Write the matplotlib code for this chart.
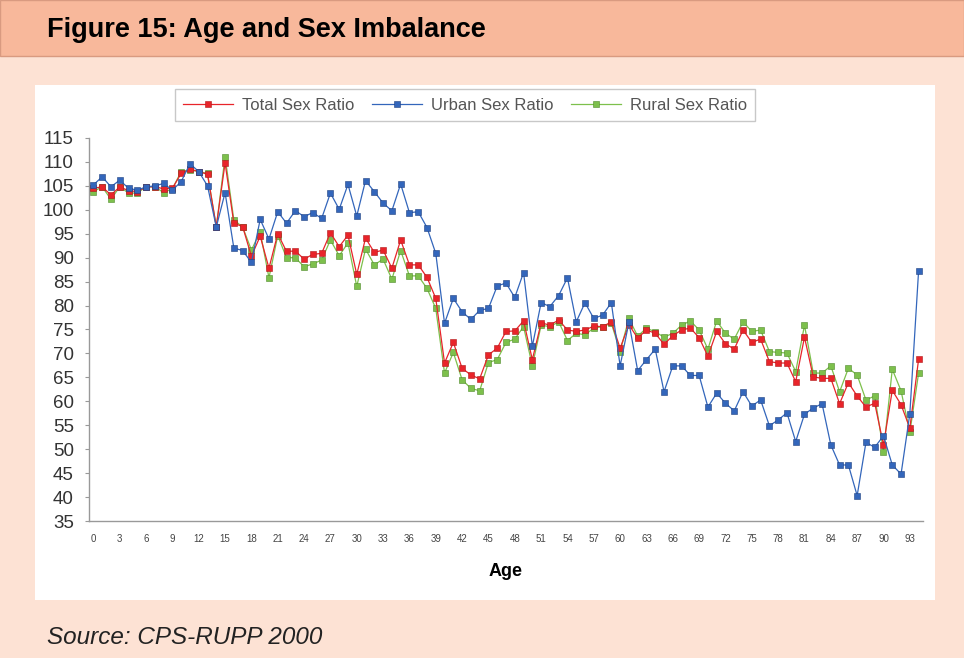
import matplotlib
matplotlib.use("Agg")
import matplotlib.pyplot as plt
from matplotlib.patches import Rectangle
import numpy as np

plt.rcParams['font.family'] = ['Liberation Sans', 'DejaVu Sans']

ages = list(range(0, 95))

total_ratio = [104.5, 104.8, 103.1, 104.8, 104.0, 103.8, 104.8, 104.8, 104.4, 104.5,
               107.6, 108.5, 108.0, 107.4, 96.5, 109.8, 97.2, 96.5, 90.3, 94.5,
               87.8, 95.0, 91.3, 91.4, 89.7, 90.7, 90.9, 95.2, 92.3, 94.7,
               86.5, 94.1, 91.1, 91.6, 87.8, 93.7, 88.5, 88.5, 85.9, 81.5,
               68.0, 72.3, 66.9, 65.5, 64.7, 69.7, 71.1, 74.6, 74.7, 76.8,
               68.7, 76.4, 75.9, 77.0, 74.9, 74.6, 74.9, 75.7, 75.6, 76.6,
               71.1, 76.0, 73.2, 74.9, 74.2, 71.9, 73.7, 74.9, 75.3, 73.3,
               69.4, 74.6, 72.0, 70.9, 74.9, 72.3, 73.0, 68.3, 68.0, 68.0,
               64.1, 73.4, 65.1, 64.8, 64.8, 59.5, 63.9, 61.1, 58.8, 59.6,
               50.9, 62.3, 59.3, 54.4, 68.8]

urban_ratio = [105.2, 106.9, 104.8, 106.2, 104.5, 104.1, 104.8, 105.0, 105.5, 104.1,
               105.9, 109.6, 108.0, 105.0, 96.4, 103.6, 92.0, 91.5, 89.0, 98.0,
               93.9, 99.6, 97.2, 99.8, 98.6, 99.4, 98.2, 103.5, 100.1, 105.3,
               98.7, 106.1, 103.8, 101.4, 99.8, 105.4, 99.4, 99.6, 96.3, 90.9,
               76.3, 81.5, 78.7, 77.1, 79.0, 79.4, 84.1, 84.7, 81.7, 86.9,
               71.5, 80.6, 79.8, 82.1, 85.8, 76.6, 80.6, 77.3, 78.0, 80.6,
               67.4, 76.5, 66.4, 68.7, 70.9, 62.0, 67.4, 67.4, 65.4, 65.4,
               58.8, 61.7, 59.6, 58.0, 62.0, 59.0, 60.3, 54.9, 56.1, 57.6,
               51.6, 57.3, 58.6, 59.5, 50.9, 46.7, 46.7, 40.3, 51.4, 50.4,
               52.8, 46.7, 44.8, 57.4, 87.3]

rural_ratio = [103.8, 104.8, 102.2, 104.8, 103.5, 103.5, 104.8, 104.8, 103.6, 104.4,
               108.0, 108.3, 108.0, 107.6, 96.4, 111.1, 97.9, 96.4, 91.6, 95.4,
               85.8, 94.6, 90.0, 90.0, 88.1, 88.7, 89.5, 93.7, 90.4, 93.1,
               84.0, 91.8, 88.5, 89.7, 85.5, 91.5, 86.2, 86.2, 83.6, 79.4,
               65.9, 70.2, 64.5, 62.7, 62.2, 68.1, 68.7, 72.3, 73.0, 75.6,
               67.4, 75.9, 75.6, 76.6, 72.7, 74.2, 73.9, 75.3, 75.6, 76.3,
               70.4, 77.3, 73.6, 75.3, 74.5, 73.4, 74.2, 75.9, 76.8, 74.9,
               70.9, 76.8, 74.2, 73.0, 76.6, 74.6, 74.9, 70.4, 70.2, 70.1,
               66.2, 75.9, 65.9, 65.9, 67.4, 62.0, 66.9, 65.5, 60.3, 61.1,
               49.5, 66.7, 62.2, 53.5, 65.9]

y_ticks = list(range(35, 116, 5))
x_ticks = list(range(0, 94, 3))

W, H = 964, 658
fig = plt.figure(figsize=(W / 100, H / 100), dpi=100)
fig.patch.set_facecolor('#fde2d4')

# header bar
fig.add_artist(Rectangle((0, 1 - 56 / H), 1, 56 / H, transform=fig.transFigure,
                         facecolor='#f8b89b', edgecolor='#d99a80', linewidth=1,
                         zorder=-10))
fig.text(47 / W, 1 - 30 / H, "Figure 15: Age and Sex Imbalance", fontsize=19.5,
         fontweight='bold', va='center', ha='left', color='black')

# white chart panel
fig.add_artist(Rectangle((35 / W, 58 / H), 900 / W, 515 / H, transform=fig.transFigure,
                         facecolor='white', edgecolor='none', zorder=-10))

fig.text(47 / W, 1 - 637 / H, "Source: CPS-RUPP 2000", fontsize=17.5, style='italic',
         va='center', ha='left', color='#222222')

ax = fig.add_axes([89 / W, 137 / H, 834 / W, 383 / H])
ax.set_facecolor('white')

line_kw = dict(linewidth=0.9, marker='s', markersize=4, markeredgewidth=0.4)
ax.plot(ages, total_ratio, color='#e8242a', markeredgecolor='#b01818',
        label='Total Sex Ratio', zorder=3, **line_kw)
ax.plot(ages, urban_ratio, color='#3366bb', markeredgecolor='#1e3f80',
        label='Urban Sex Ratio', zorder=4, **line_kw)
ax.plot(ages, rural_ratio, color='#7dc04c', markeredgecolor='#4f8a2a',
        label='Rural Sex Ratio', zorder=2, **line_kw)

ax.set_xlim(-0.5, 94.5)
ax.set_ylim(35, 115)
ax.set_yticks(y_ticks)
ax.set_xticks(x_ticks)
ax.set_xticklabels([str(v) for v in x_ticks], fontsize=7, color='#444444')
ax.tick_params(axis='y', labelsize=13.5, colors='#333333', length=3, color='#999999',
               pad=8)
ax.tick_params(axis='x', length=0, pad=9)
for s in ['top', 'right']:
    ax.spines[s].set_visible(False)
for s in ['left', 'bottom']:
    ax.spines[s].set_color('#999999')
    ax.spines[s].set_linewidth(1)

ax.set_xlabel('Age', fontsize=13, fontweight='bold', labelpad=14)

leg = fig.legend(loc='center', bbox_to_anchor=(465 / W, 1 - 105 / H), ncol=3,
                 frameon=True, fontsize=12, handlelength=3.0, columnspacing=1.1,
                 handletextpad=0.5, fancybox=False, edgecolor='#bbbbbb', borderpad=0.5)
for t in leg.get_texts():
    t.set_color('#555555')

fig.savefig('out.png', dpi=100, facecolor=fig.get_facecolor())
